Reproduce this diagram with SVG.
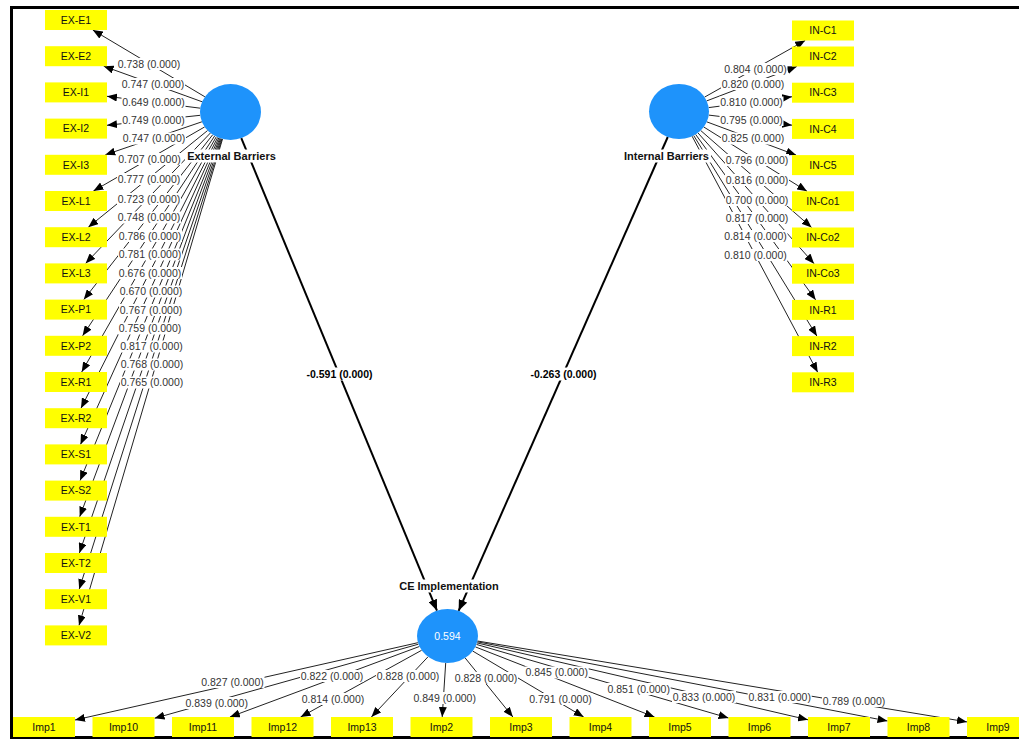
<svg xmlns="http://www.w3.org/2000/svg" width="1019" height="740" viewBox="0 0 1019 740">
<defs>
<marker id="ah" markerUnits="userSpaceOnUse" markerWidth="10" markerHeight="8" viewBox="0 0 10 8" refX="10" refY="4" orient="auto"><path d="M0,0 L10,4 L0,8 z" fill="#000"/></marker>
<marker id="ahb" markerUnits="userSpaceOnUse" markerWidth="11" markerHeight="9" viewBox="0 0 11 9" refX="11" refY="4.5" orient="auto"><path d="M0,0 L11,4.5 L0,9 z" fill="#000"/></marker>
</defs>
<style>
.ld{stroke:#222;stroke-width:1;fill:none;marker-end:url(#ah)}
.pc{stroke:#000;stroke-width:2;fill:none;marker-end:url(#ahb)}
.lb{fill:#fff}
.lt{font-family:"Liberation Sans",Arial,sans-serif;font-size:10.5px;fill:#333;text-anchor:middle}
.pt{font-family:"Liberation Sans",Arial,sans-serif;font-size:10.5px;font-weight:bold;fill:#000;text-anchor:middle}
.box{fill:#ffff00}
.bt{font-family:"Liberation Sans",Arial,sans-serif;font-size:10.5px;fill:#111;text-anchor:middle}
.lv{fill:#1e93fb}
.ln{font-family:"Liberation Sans",Arial,sans-serif;font-size:11px;font-weight:bold;fill:#111;text-anchor:middle}
.r2{font-family:"Liberation Sans",Arial,sans-serif;font-size:10.5px;fill:#fff;text-anchor:middle}
</style>
<rect x="0" y="0" width="1019" height="740" fill="#fff"/>
<path d="M1019,7.5 H11.5 V737.5 H1019" fill="none" stroke="#000" stroke-width="3"/>

<g id="connectors">
<line class="ld" x1="204.9" y1="96.8" x2="92.8" y2="30"/>
<line class="ld" x1="202.1" y1="101.75" x2="103.7" y2="66.2"/>
<line class="ld" x1="200.3" y1="108.2" x2="107" y2="96.3"/>
<line class="ld" x1="200.2" y1="115.3" x2="107" y2="125.3"/>
<line class="ld" x1="201.9" y1="121.8" x2="105.3" y2="154.8"/>
<line class="ld" x1="204.7" y1="126.9" x2="93.4" y2="191"/>
<line class="ld" x1="207.6" y1="130.5" x2="88.3" y2="227.2"/>
<line class="ld" x1="210.4" y1="133" x2="85.6" y2="263.4"/>
<line class="ld" x1="212.7" y1="134.75" x2="83.8" y2="299.6"/>
<line class="ld" x1="214.7" y1="135.9" x2="82.6" y2="335.8"/>
<line class="ld" x1="216.3" y1="136.8" x2="81.7" y2="372"/>
<line class="ld" x1="217.7" y1="137.4" x2="81" y2="408.2"/>
<line class="ld" x1="218.8" y1="137.9" x2="80.5" y2="444.4"/>
<line class="ld" x1="219.8" y1="138.2" x2="80.1" y2="480.6"/>
<line class="ld" x1="220.6" y1="138.5" x2="79.7" y2="516.8"/>
<line class="ld" x1="221.35" y1="138.7" x2="79.4" y2="553"/>
<line class="ld" x1="222" y1="138.9" x2="79.2" y2="589.2"/>
<line class="ld" x1="222.5" y1="139" x2="79" y2="625.4"/>

<line class="ld" x1="704.6" y1="97.1" x2="805.2" y2="40.5"/>
<line class="ld" x1="706.7" y1="100.9" x2="796.8" y2="66.5"/>
<line class="ld" x1="708.7" y1="107.6" x2="792" y2="96.75"/>
<line class="ld" x1="708.75" y1="115.1" x2="792" y2="125.15"/>
<line class="ld" x1="706.8" y1="121.85" x2="796.1" y2="155.1"/>
<line class="ld" x1="703.8" y1="127" x2="807" y2="191.3"/>
<line class="ld" x1="700.7" y1="130.5" x2="811.6" y2="227.5"/>
<line class="ld" x1="697.9" y1="132.8" x2="814.1" y2="263.7"/>
<line class="ld" x1="695.6" y1="134.4" x2="815.7" y2="299.9"/>
<line class="ld" x1="693.7" y1="135.5" x2="816.9" y2="336.1"/>
<line class="ld" x1="692.1" y1="136.2" x2="817.7" y2="372.3"/>

<line class="ld" x1="417.9" y1="642.7" x2="75" y2="720"/>
<line class="ld" x1="418.4" y1="644.2" x2="154.5" y2="718.3"/>
<line class="ld" x1="419.4" y1="646.5" x2="229.9" y2="717"/>
<line class="ld" x1="421.6" y1="650.3" x2="300.6" y2="717"/>
<line class="ld" x1="428" y1="656.8" x2="371.4" y2="717"/>
<line class="ld" x1="445.7" y1="663" x2="442.2" y2="717"/>
<line class="ld" x1="465.2" y1="658" x2="512.9" y2="717"/>
<line class="ld" x1="472.8" y1="651.1" x2="583.7" y2="717"/>
<line class="ld" x1="475.4" y1="646.9" x2="654.5" y2="717"/>
<line class="ld" x1="476.5" y1="644.45" x2="728.5" y2="718"/>
<line class="ld" x1="477" y1="642.9" x2="808" y2="719.8"/>
<line class="ld" x1="477.3" y1="641.8" x2="887.5" y2="721"/>
<line class="ld" x1="477.5" y1="641" x2="967" y2="721.9"/>

<line class="pc" x1="241.3" y1="138.2" x2="437" y2="610.65"/>
<line class="pc" x1="667.75" y1="137" x2="458.6" y2="610.85"/>

<g id="loading-labels">
<rect class="lb" x="117" y="58" width="64" height="12"/><text class="lt" x="149" y="67.7">0.738 (0.000)</text>
<rect class="lb" x="121" y="78" width="64" height="12"/><text class="lt" x="153" y="87.7">0.747 (0.000)</text>
<rect class="lb" x="121.5" y="96.5" width="64" height="12"/><text class="lt" x="153.5" y="106.2">0.649 (0.000)</text>
<rect class="lb" x="121.5" y="114" width="64" height="12"/><text class="lt" x="153.5" y="123.7">0.749 (0.000)</text>
<rect class="lb" x="122" y="132.5" width="64" height="12"/><text class="lt" x="154" y="142.2">0.747 (0.000)</text>
<rect class="lb" x="117.5" y="153" width="64" height="12"/><text class="lt" x="149.5" y="162.7">0.707 (0.000)</text>
<rect class="lb" x="117" y="173" width="64" height="12"/><text class="lt" x="149" y="182.7">0.777 (0.000)</text>
<rect class="lb" x="117" y="193" width="64" height="12"/><text class="lt" x="149" y="202.7">0.723 (0.000)</text>
<rect class="lb" x="117" y="211.5" width="64" height="12"/><text class="lt" x="149" y="221.2">0.748 (0.000)</text>
<rect class="lb" x="118" y="230" width="64" height="12"/><text class="lt" x="150" y="239.7">0.786 (0.000)</text>
<rect class="lb" x="118" y="248.5" width="64" height="12"/><text class="lt" x="150" y="258.2">0.781 (0.000)</text>
<rect class="lb" x="118" y="267" width="64" height="12"/><text class="lt" x="150" y="276.7">0.676 (0.000)</text>
<rect class="lb" x="119" y="285.5" width="64" height="12"/><text class="lt" x="151" y="295.2">0.670 (0.000)</text>
<rect class="lb" x="119" y="304" width="64" height="12"/><text class="lt" x="151" y="313.7">0.767 (0.000)</text>
<rect class="lb" x="118" y="322.5" width="64" height="12"/><text class="lt" x="150" y="332.2">0.759 (0.000)</text>
<rect class="lb" x="119.5" y="340.5" width="64" height="12"/><text class="lt" x="151.5" y="350.2">0.817 (0.000)</text>
<rect class="lb" x="120" y="358.5" width="64" height="12"/><text class="lt" x="152" y="368.2">0.768 (0.000)</text>
<rect class="lb" x="120" y="376.5" width="64" height="12"/><text class="lt" x="152" y="386.2">0.765 (0.000)</text>

<rect class="lb" x="723.5" y="63" width="64" height="12"/><text class="lt" x="755.5" y="72.7">0.804 (0.000)</text>
<rect class="lb" x="721" y="78" width="64" height="12"/><text class="lt" x="753" y="87.7">0.820 (0.000)</text>
<rect class="lb" x="719.5" y="96.5" width="64" height="12"/><text class="lt" x="751.5" y="106.2">0.810 (0.000)</text>
<rect class="lb" x="719.5" y="114" width="64" height="12"/><text class="lt" x="751.5" y="123.7">0.795 (0.000)</text>
<rect class="lb" x="721" y="132.5" width="64" height="12"/><text class="lt" x="753" y="142.2">0.825 (0.000)</text>
<rect class="lb" x="725" y="154" width="64" height="12"/><text class="lt" x="757" y="163.7">0.796 (0.000)</text>
<rect class="lb" x="725" y="174" width="64" height="12"/><text class="lt" x="757" y="183.7">0.816 (0.000)</text>
<rect class="lb" x="725" y="194" width="64" height="12"/><text class="lt" x="757" y="203.7">0.700 (0.000)</text>
<rect class="lb" x="725" y="212" width="64" height="12"/><text class="lt" x="757" y="221.7">0.817 (0.000)</text>
<rect class="lb" x="723.5" y="230" width="64" height="12"/><text class="lt" x="755.5" y="239.7">0.814 (0.000)</text>
<rect class="lb" x="723.5" y="249" width="64" height="12"/><text class="lt" x="755.5" y="258.7">0.810 (0.000)</text>

<rect class="lb" x="200.5" y="676" width="64" height="12"/><text class="lt" x="232.5" y="685.7">0.827 (0.000)</text>
<rect class="lb" x="184.7" y="697" width="64" height="12"/><text class="lt" x="216.7" y="706.7">0.839 (0.000)</text>
<rect class="lb" x="300" y="670" width="64" height="12"/><text class="lt" x="332" y="679.7">0.822 (0.000)</text>
<rect class="lb" x="301" y="693" width="64" height="12"/><text class="lt" x="333" y="702.7">0.814 (0.000)</text>
<rect class="lb" x="376" y="670" width="64" height="12"/><text class="lt" x="408" y="679.7">0.828 (0.000)</text>
<rect class="lb" x="412.7" y="692" width="64" height="12"/><text class="lt" x="444.7" y="701.7">0.849 (0.000)</text>
<rect class="lb" x="454" y="672" width="64" height="12"/><text class="lt" x="486" y="681.7">0.828 (0.000)</text>
<rect class="lb" x="524.7" y="666.5" width="64" height="12"/><text class="lt" x="556.7" y="676.2">0.845 (0.000)</text>
<rect class="lb" x="528.5" y="693" width="64" height="12"/><text class="lt" x="560.5" y="702.7">0.791 (0.000)</text>
<rect class="lb" x="606.7" y="683" width="64" height="12"/><text class="lt" x="638.7" y="692.7">0.851 (0.000)</text>
<rect class="lb" x="672" y="691" width="64" height="12"/><text class="lt" x="704" y="700.7">0.833 (0.000)</text>
<rect class="lb" x="747.7" y="691" width="64" height="12"/><text class="lt" x="779.7" y="700.7">0.831 (0.000)</text>
<rect class="lb" x="822" y="695" width="64" height="12"/><text class="lt" x="854" y="704.7">0.789 (0.000)</text>
</g>
<g id="path-labels">
<rect class="lb" x="305" y="367.5" width="69" height="13"/><text class="pt" x="339.5" y="377.7">-0.591 (0.000)</text>
<rect class="lb" x="529" y="367.5" width="69" height="13"/><text class="pt" x="563.5" y="377.7">-0.263 (0.000)</text>
</g>
</g>

<g id="node-external-barriers"><ellipse class="lv" cx="230.5" cy="112" rx="30.5" ry="28"/><rect class="lb" x="185" y="149.5" width="93" height="13"/><text class="ln" x="231.5" y="160">External Barriers</text></g>
<g id="node-internal-barriers"><ellipse class="lv" cx="679" cy="111.5" rx="30" ry="27.5"/><rect class="lb" x="622" y="149.5" width="89" height="13"/><text class="ln" x="666.5" y="160">Internal Barriers</text></g>
<g id="node-ce-implementation"><ellipse class="lv" cx="447.5" cy="636" rx="30.5" ry="27"/><text class="r2" x="447.5" y="640">0.594</text><rect class="lb" x="396" y="579.5" width="106" height="13"/><text class="ln" x="449" y="590">CE Implementation</text></g>

<g id="node-EX-E1"><rect class="box" x="45" y="10" width="62" height="20"/><text class="bt" x="76" y="23.7">EX-E1</text></g>
<g id="node-EX-E2"><rect class="box" x="45" y="46.2" width="62" height="20"/><text class="bt" x="76" y="59.9">EX-E2</text></g>
<g id="node-EX-I1"><rect class="box" x="45" y="82.4" width="62" height="20"/><text class="bt" x="76" y="96.1">EX-I1</text></g>
<g id="node-EX-I2"><rect class="box" x="45" y="118.6" width="62" height="20"/><text class="bt" x="76" y="132.3">EX-I2</text></g>
<g id="node-EX-I3"><rect class="box" x="45" y="154.8" width="62" height="20"/><text class="bt" x="76" y="168.5">EX-I3</text></g>
<g id="node-EX-L1"><rect class="box" x="45" y="191" width="62" height="20"/><text class="bt" x="76" y="204.7">EX-L1</text></g>
<g id="node-EX-L2"><rect class="box" x="45" y="227.2" width="62" height="20"/><text class="bt" x="76" y="240.9">EX-L2</text></g>
<g id="node-EX-L3"><rect class="box" x="45" y="263.4" width="62" height="20"/><text class="bt" x="76" y="277.1">EX-L3</text></g>
<g id="node-EX-P1"><rect class="box" x="45" y="299.6" width="62" height="20"/><text class="bt" x="76" y="313.3">EX-P1</text></g>
<g id="node-EX-P2"><rect class="box" x="45" y="335.8" width="62" height="20"/><text class="bt" x="76" y="349.5">EX-P2</text></g>
<g id="node-EX-R1"><rect class="box" x="45" y="372" width="62" height="20"/><text class="bt" x="76" y="385.7">EX-R1</text></g>
<g id="node-EX-R2"><rect class="box" x="45" y="408.2" width="62" height="20"/><text class="bt" x="76" y="421.9">EX-R2</text></g>
<g id="node-EX-S1"><rect class="box" x="45" y="444.4" width="62" height="20"/><text class="bt" x="76" y="458.1">EX-S1</text></g>
<g id="node-EX-S2"><rect class="box" x="45" y="480.6" width="62" height="20"/><text class="bt" x="76" y="494.3">EX-S2</text></g>
<g id="node-EX-T1"><rect class="box" x="45" y="516.8" width="62" height="20"/><text class="bt" x="76" y="530.5">EX-T1</text></g>
<g id="node-EX-T2"><rect class="box" x="45" y="553" width="62" height="20"/><text class="bt" x="76" y="566.7">EX-T2</text></g>
<g id="node-EX-V1"><rect class="box" x="45" y="589.2" width="62" height="20"/><text class="bt" x="76" y="602.9">EX-V1</text></g>
<g id="node-EX-V2"><rect class="box" x="45" y="625.4" width="62" height="20"/><text class="bt" x="76" y="639.1">EX-V2</text></g>

<g id="node-IN-C1"><rect class="box" x="792" y="20.5" width="62" height="20"/><text class="bt" x="823" y="34.2">IN-C1</text></g>
<g id="node-IN-C2"><rect class="box" x="792" y="46.5" width="62" height="20"/><text class="bt" x="823" y="60.2">IN-C2</text></g>
<g id="node-IN-C3"><rect class="box" x="792" y="82.7" width="62" height="20"/><text class="bt" x="823" y="96.4">IN-C3</text></g>
<g id="node-IN-C4"><rect class="box" x="792" y="118.9" width="62" height="20"/><text class="bt" x="823" y="132.6">IN-C4</text></g>
<g id="node-IN-C5"><rect class="box" x="792" y="155.1" width="62" height="20"/><text class="bt" x="823" y="168.8">IN-C5</text></g>
<g id="node-IN-Co1"><rect class="box" x="792" y="191.3" width="62" height="20"/><text class="bt" x="823" y="205">IN-Co1</text></g>
<g id="node-IN-Co2"><rect class="box" x="792" y="227.5" width="62" height="20"/><text class="bt" x="823" y="241.2">IN-Co2</text></g>
<g id="node-IN-Co3"><rect class="box" x="792" y="263.7" width="62" height="20"/><text class="bt" x="823" y="277.4">IN-Co3</text></g>
<g id="node-IN-R1"><rect class="box" x="792" y="299.9" width="62" height="20"/><text class="bt" x="823" y="313.6">IN-R1</text></g>
<g id="node-IN-R2"><rect class="box" x="792" y="336.1" width="62" height="20"/><text class="bt" x="823" y="349.8">IN-R2</text></g>
<g id="node-IN-R3"><rect class="box" x="792" y="372.3" width="62" height="20"/><text class="bt" x="823" y="386">IN-R3</text></g>

<g id="node-Imp1"><rect class="box" x="13" y="717" width="62" height="20"/><text class="bt" x="44" y="730.7">Imp1</text></g>
<g id="node-Imp10"><rect class="box" x="92.5" y="717" width="62" height="20"/><text class="bt" x="123.5" y="730.7">Imp10</text></g>
<g id="node-Imp11"><rect class="box" x="172" y="717" width="62" height="20"/><text class="bt" x="203" y="730.7">Imp11</text></g>
<g id="node-Imp12"><rect class="box" x="251.5" y="717" width="62" height="20"/><text class="bt" x="282.5" y="730.7">Imp12</text></g>
<g id="node-Imp13"><rect class="box" x="331" y="717" width="62" height="20"/><text class="bt" x="362" y="730.7">Imp13</text></g>
<g id="node-Imp2"><rect class="box" x="410.5" y="717" width="62" height="20"/><text class="bt" x="441.5" y="730.7">Imp2</text></g>
<g id="node-Imp3"><rect class="box" x="490" y="717" width="62" height="20"/><text class="bt" x="521" y="730.7">Imp3</text></g>
<g id="node-Imp4"><rect class="box" x="569.5" y="717" width="62" height="20"/><text class="bt" x="600.5" y="730.7">Imp4</text></g>
<g id="node-Imp5"><rect class="box" x="649" y="717" width="62" height="20"/><text class="bt" x="680" y="730.7">Imp5</text></g>
<g id="node-Imp6"><rect class="box" x="728.5" y="717" width="62" height="20"/><text class="bt" x="759.5" y="730.7">Imp6</text></g>
<g id="node-Imp7"><rect class="box" x="808" y="717" width="62" height="20"/><text class="bt" x="839" y="730.7">Imp7</text></g>
<g id="node-Imp8"><rect class="box" x="887.5" y="717" width="62" height="20"/><text class="bt" x="918.5" y="730.7">Imp8</text></g>
<g id="node-Imp9"><rect class="box" x="967" y="717" width="62" height="20"/><text class="bt" x="998" y="730.7">Imp9</text></g>
</svg>
